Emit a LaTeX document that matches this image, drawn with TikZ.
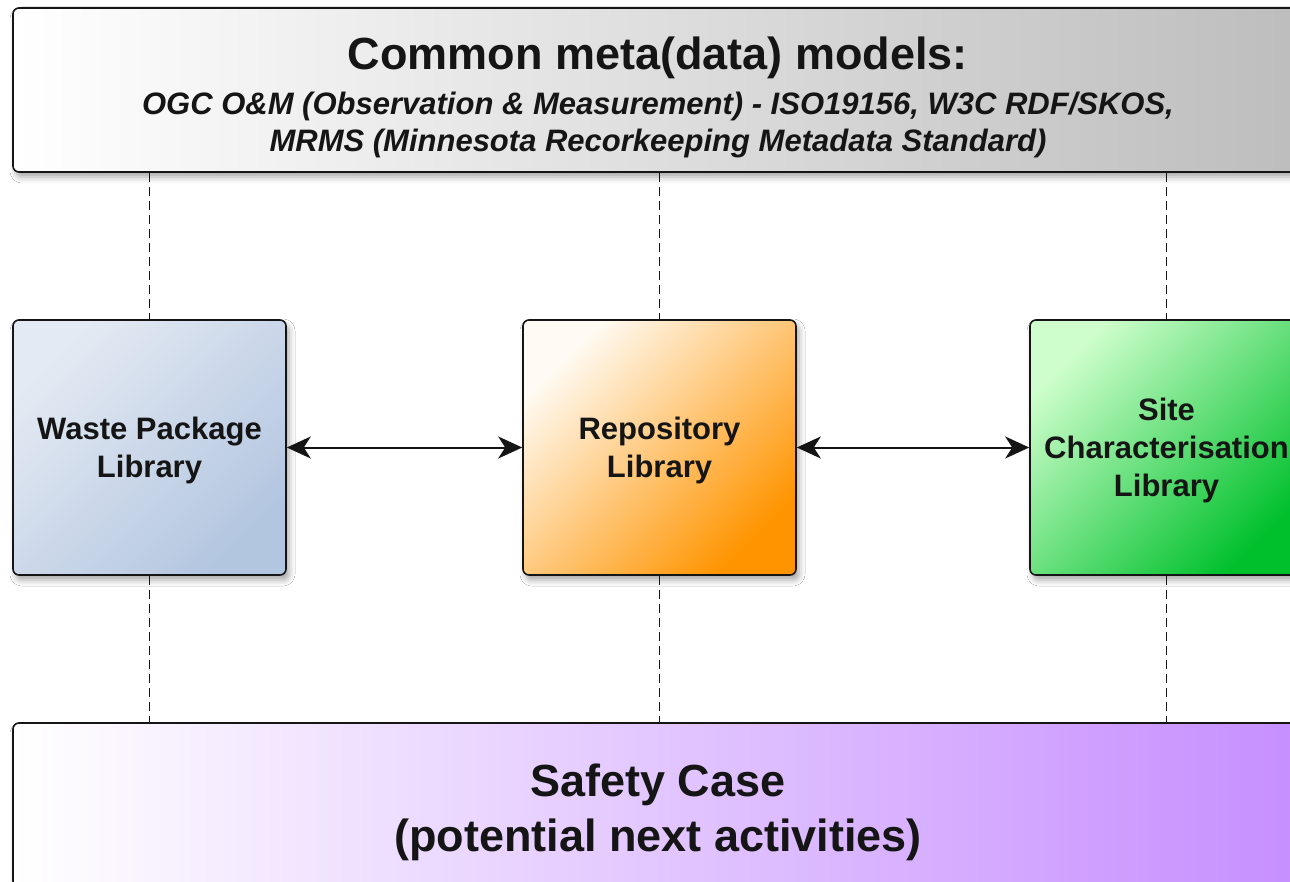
\documentclass[tikz,border=0pt]{standalone}
\usepackage{fontspec}
\setmainfont{Liberation Sans}
\usetikzlibrary{arrows.meta,shadows.blur}

\definecolor{ink}{HTML}{151515}
\definecolor{wasteA}{HTML}{E4EAF3}
\definecolor{wasteB}{HTML}{B3C6E0}
\definecolor{repoA}{HTML}{FFFBF4}
\definecolor{repoB}{HTML}{FF9400}
\definecolor{siteA}{HTML}{CDFECB}
\definecolor{siteB}{HTML}{00C02C}
\definecolor{modelB}{HTML}{BDBDBD}
\definecolor{safeB}{HTML}{C68EFF}

\begin{document}
\begin{tikzpicture}[x=1pt,y=-1pt,
  box/.style={draw=ink, line width=1.6pt, rounded corners=6pt, inner sep=0pt,
    blur shadow={shadow xshift=3pt, shadow yshift=-5pt, shadow blur radius=6pt, shadow opacity=35}},
  lib/.style={box, minimum width=273pt, minimum height=255pt, align=center,
    font=\fontsize{31}{38}\selectfont\bfseries, text=ink, text depth=0pt},
  wide/.style={box, minimum width=1290pt, minimum height=164pt},
  guide/.style={draw=ink, line width=1.2pt, dash pattern=on 9pt off 5pt},
  conn/.style={draw=ink, line width=2pt,
    {Stealth[length=24pt,width=22pt,inset=7pt]}-{Stealth[length=24pt,width=22pt,inset=7pt]}}
]
\useasboundingbox (0,0) rectangle (1290,882);
\clip (0,0) rectangle (1290,882);
\fill[white] (0,0) rectangle (1290,882);

% top band: shared meta(data) models
\node[wide, left color=white, right color=modelB] (models) at (658,90) {};
\node[font=\fontsize{45}{55}\selectfont\bfseries, text=ink] (modelsTitle) at (658,58) {Common meta(data) models:};
\node[font=\fontsize{31}{37}\selectfont\bfseries\itshape, text=ink, align=center] (modelsSub) at (658,125)
  {OGC O\&M (Observation \& Measurement) - ISO19156, W3C RDF/SKOS,\\MRMS (Minnesota Recorkeeping Metadata Standard)};

% the three libraries
\node[lib, top color=wasteA, bottom color=wasteB, shading angle=45] (waste) at (149.5,447.5) {Waste Package\\Library};
\node[lib, top color=repoA, bottom color=repoB, shading angle=45] (repo) at (659.5,447.5) {Repository\\Library};
\node[lib, top color=siteA, bottom color=siteB, shading angle=45] (site) at (1166.5,447.5) {Site\\Characterisation\\Library};

% bottom band
\node[wide, left color=white, right color=safeB] (safety) at (658,805) {};
\node[font=\fontsize{45}{55}\selectfont\bfseries, text=ink, align=center] (safetyText) at (658,812)
  {Safety Case\\(potential next activities)};

% dashed links to the bands
\foreach \n in {waste,repo,site}{
  \draw[guide] (models.south -| \n.north) -- (\n.north);
  \draw[guide] (\n.south) -- (safety.north -| \n.south);
}

% exchanges between libraries
\draw[conn] (waste.east) -- (repo.west);
\draw[conn] (repo.east) -- (site.west);
\end{tikzpicture}
\end{document}
